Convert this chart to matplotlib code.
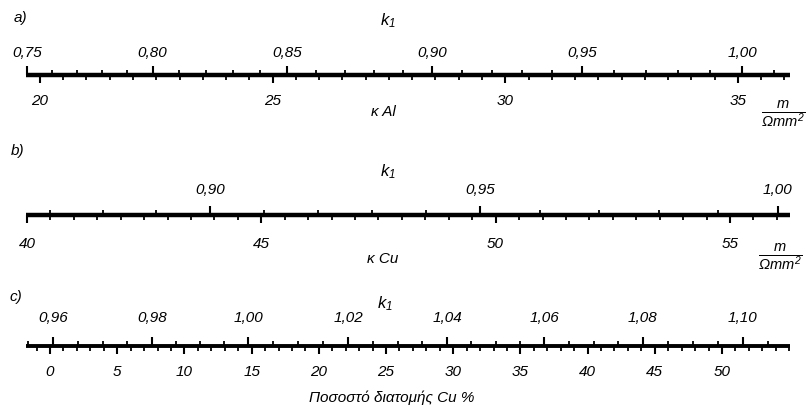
import numpy as np
import matplotlib
matplotlib.use('Agg')
import matplotlib.pyplot as plt
from matplotlib.ticker import MultipleLocator, FixedLocator, FuncFormatter

plt.rcParams['font.family'] = ['Liberation Sans', 'DejaVu Sans']
plt.rcParams['font.style'] = 'italic'
plt.rcParams['mathtext.fontset'] = 'custom'
plt.rcParams['mathtext.it'] = 'Liberation Sans:italic'
plt.rcParams['mathtext.rm'] = 'Liberation Sans:italic'

# a) aluminium: conductivity scale (bottom) and k1 scale (top)
al_kappa_ticks = [20, 25, 30, 35]
al_k_ticks = [0.75, 0.80, 0.85, 0.90, 0.95, 1.00]
al_k_at_kappa = [19.72, 22.42, 25.31, 28.42, 31.66, 35.09]
al_range = (19.70, 36.12)

# b) copper
cu_kappa_ticks = [40, 45, 50, 55]
cu_k_ticks = [0.90, 0.95, 1.00]
cu_k_anchor = [0.87, 0.90, 0.95, 1.00]
cu_k_at_kappa = [40.49, 43.90, 49.67, 56.02]
cu_range = (39.98, 56.28)

# c) percentage of Cu cross-section
pct_ticks = [0, 5, 10, 15, 20, 25, 30, 35, 40, 45, 50]
pct_k_ticks = [0.96, 0.98, 1.00, 1.02, 1.04, 1.06, 1.08, 1.10]
pct_k_anchor = [0.955, 0.96, 0.98, 1.00, 1.02, 1.04, 1.06, 1.08, 1.10]
pct_k_at = [-1.64, 0.22, 7.59, 14.73, 22.17, 29.54, 36.76, 44.12, 51.56]
pct_range = (-1.79, 55.06)

W, H = 811, 407


def fpos(x, y):
    return x / W, 1 - y / H


def scale_funcs(k_vals, x_vals):
    k_vals = np.asarray(k_vals, float)
    x_vals = np.asarray(x_vals, float)

    def lin(v, xp, fp):
        v = np.asarray(v, dtype=float)
        out = np.interp(v, xp, fp)
        lo = (fp[1] - fp[0]) / (xp[1] - xp[0])
        hi = (fp[-1] - fp[-2]) / (xp[-1] - xp[-2])
        out = np.where(v < xp[0], fp[0] + (v - xp[0]) * lo, out)
        out = np.where(v > xp[-1], fp[-1] + (v - xp[-1]) * hi, out)
        return out

    return (lambda x: lin(x, x_vals, k_vals)), (lambda k: lin(k, k_vals, x_vals))


comma = FuncFormatter(lambda v, p: f'{v:.2f}'.replace('.', ','))
intfmt = FuncFormatter(lambda v, p: f'{v:.0f}')

fig = plt.figure(figsize=(W / 100, H / 100), dpi=100)


def scale_panel(line_y, xrange, bottom_ticks, bottom_minor, k_ticks, k_anchor, k_at, k_minor,
                top_pad, bot_pad, lw=3.2):
    left, width = 26 / W, 764 / W
    yc = 1 - line_y / H
    ax = fig.add_axes([left, yc - 0.05, width, 0.1])
    ax.set_xlim(*xrange)
    ax.set_ylim(-1, 1)
    for s in ['top', 'left', 'right']:
        ax.spines[s].set_visible(False)
    ax.spines['bottom'].set_position(('axes', 0.5))
    ax.spines['bottom'].set_linewidth(lw)
    ax.spines['bottom'].set_capstyle('butt')
    ax.yaxis.set_visible(False)
    ax.patch.set_alpha(0)
    ax.xaxis.set_major_locator(FixedLocator(bottom_ticks))
    ax.xaxis.set_minor_locator(MultipleLocator(bottom_minor))
    ax.xaxis.set_major_formatter(intfmt)
    ax.tick_params(axis='x', which='major', direction='out', length=6, width=1.5,
                   labelsize=11, pad=bot_pad)
    ax.tick_params(axis='x', which='minor', direction='out', length=3.5, width=1.3)

    fwd, inv = scale_funcs(k_anchor, k_at)
    sec = ax.secondary_xaxis(0.5, functions=(fwd, inv))
    sec.set_xticks(k_ticks)
    sec.xaxis.set_minor_locator(MultipleLocator(k_minor))
    sec.xaxis.set_major_formatter(comma)
    sec.spines['top'].set_visible(False)
    sec.spines['bottom'].set_visible(False)
    sec.tick_params(axis='x', which='major', direction='out', length=6.5, width=1.5,
                    labelsize=11, pad=top_pad)
    sec.tick_params(axis='x', which='minor', direction='out', length=3.5, width=1.3)
    return ax


scale_panel(75, al_range, al_kappa_ticks, 0.5, al_k_ticks, al_k_ticks, al_k_at_kappa, 0.01,
            top_pad=4.5, bot_pad=7.5)
scale_panel(215, cu_range, cu_kappa_ticks, 0.5, cu_k_ticks, cu_k_anchor, cu_k_at_kappa, 0.01,
            top_pad=6.5, bot_pad=9.5)
scale_panel(346, pct_range, pct_ticks, 1, pct_k_ticks, pct_k_anchor, pct_k_at, 0.005,
            top_pad=8.5, bot_pad=7.5, lw=2.8)

txt = dict(ha='center', va='center', fontsize=11)
frac = r'$\frac{m}{\Omega mm^2}$'

fig.text(*fpos(20, 18), 'a)', **txt)
fig.text(*fpos(388, 21), r'$k_{1}$', ha='center', va='center', fontsize=12)
fig.text(*fpos(383, 112), 'κ Al', **txt)
fig.text(*fpos(783, 114), frac, ha='center', va='center', fontsize=15)

fig.text(*fpos(18, 151), 'b)', **txt)
fig.text(*fpos(388, 172), r'$k_{1}$', ha='center', va='center', fontsize=12)
fig.text(*fpos(383, 259), 'κ Cu', **txt)
fig.text(*fpos(780, 257), frac, ha='center', va='center', fontsize=15)

fig.text(*fpos(16, 297), 'c)', **txt)
fig.text(*fpos(385, 304), r'$k_{1}$', ha='center', va='center', fontsize=12)
fig.text(*fpos(392, 398), 'Ποσοστό διατομής Cu %', ha='center', va='center', fontsize=11)

fig.savefig('out.png', dpi=100, facecolor='white')
